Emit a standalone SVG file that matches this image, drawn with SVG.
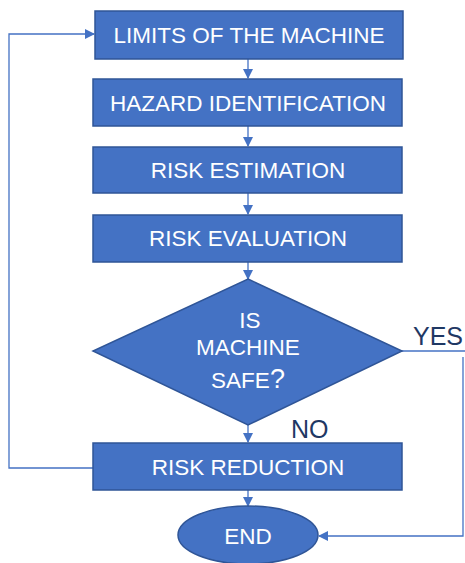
<svg xmlns="http://www.w3.org/2000/svg" width="465" height="563" viewBox="0 0 465 563">
<defs>
<marker id="ah" markerWidth="10" markerHeight="10" refX="9" refY="5" orient="auto" markerUnits="userSpaceOnUse">
<path d="M0,0 L10,5 L0,10 Z" fill="#4472C4"/>
</marker>
<style>
.box{fill:#4472C4;stroke:#2F5597;stroke-width:1.5}
.t{font-family:"Liberation Sans",Arial,sans-serif;font-size:22.5px;fill:#FFFFFF;text-anchor:middle}
.lbl{font-family:"Liberation Sans",Arial,sans-serif;font-size:25px;fill:#1F3864}
.c{fill:none;stroke:#4472C4;stroke-width:1.3}
</style>
</defs>
<rect width="465" height="563" fill="#FFFFFF"/>
<g id="connectors">
<line class="c" x1="248" y1="59" x2="248" y2="78" marker-end="url(#ah)"/>
<line class="c" x1="248" y1="126" x2="248" y2="146" marker-end="url(#ah)"/>
<line class="c" x1="248" y1="193" x2="248" y2="214" marker-end="url(#ah)"/>
<line class="c" x1="248" y1="262" x2="248" y2="279" marker-end="url(#ah)"/>
<line class="c" x1="248" y1="425" x2="248" y2="442" marker-end="url(#ah)"/>
<line class="c" x1="248" y1="490" x2="248" y2="506" marker-end="url(#ah)"/>
<polyline class="c" points="93,468 9,468 9,34 94,34" marker-end="url(#ah)"/>
<polyline class="c" points="402,351 466,351"/>
<polyline class="c" points="463,357 463,536 319,536" marker-end="url(#ah)"/>
</g>
<g id="limits">
<rect class="box" x="95" y="11" width="308" height="48"/>
<text class="t" x="249" y="43">LIMITS OF THE MACHINE</text>
</g>
<g id="hazard">
<rect class="box" x="93" y="79" width="309" height="47"/>
<text class="t" x="248" y="111">HAZARD IDENTIFICATION</text>
</g>
<g id="estimation">
<rect class="box" x="93" y="147" width="309" height="46"/>
<text class="t" x="248" y="178">RISK ESTIMATION</text>
</g>
<g id="evaluation">
<rect class="box" x="93" y="215" width="309" height="47"/>
<text class="t" x="248" y="246">RISK EVALUATION</text>
</g>
<g id="decision">
<polygon class="box" points="248,279 402,351 248,425 93,351"/>
<text class="t" x="250" y="328">IS</text>
<text class="t" x="248" y="355">MACHINE</text>
<text class="t" x="248" y="388">SAFE<tspan font-size="27px">?</tspan></text>
</g>
<g id="labels">
<text class="lbl" x="413" y="345">YES</text>
<text class="lbl" x="291" y="438">NO</text>
</g>
<g id="reduction">
<rect class="box" x="93" y="443" width="309" height="47"/>
<text class="t" x="248" y="475">RISK REDUCTION</text>
</g>
<g id="end">
<ellipse class="box" cx="248" cy="535" rx="70" ry="29"/>
<text class="t" x="248" y="544">END</text>
</g>
</svg>
